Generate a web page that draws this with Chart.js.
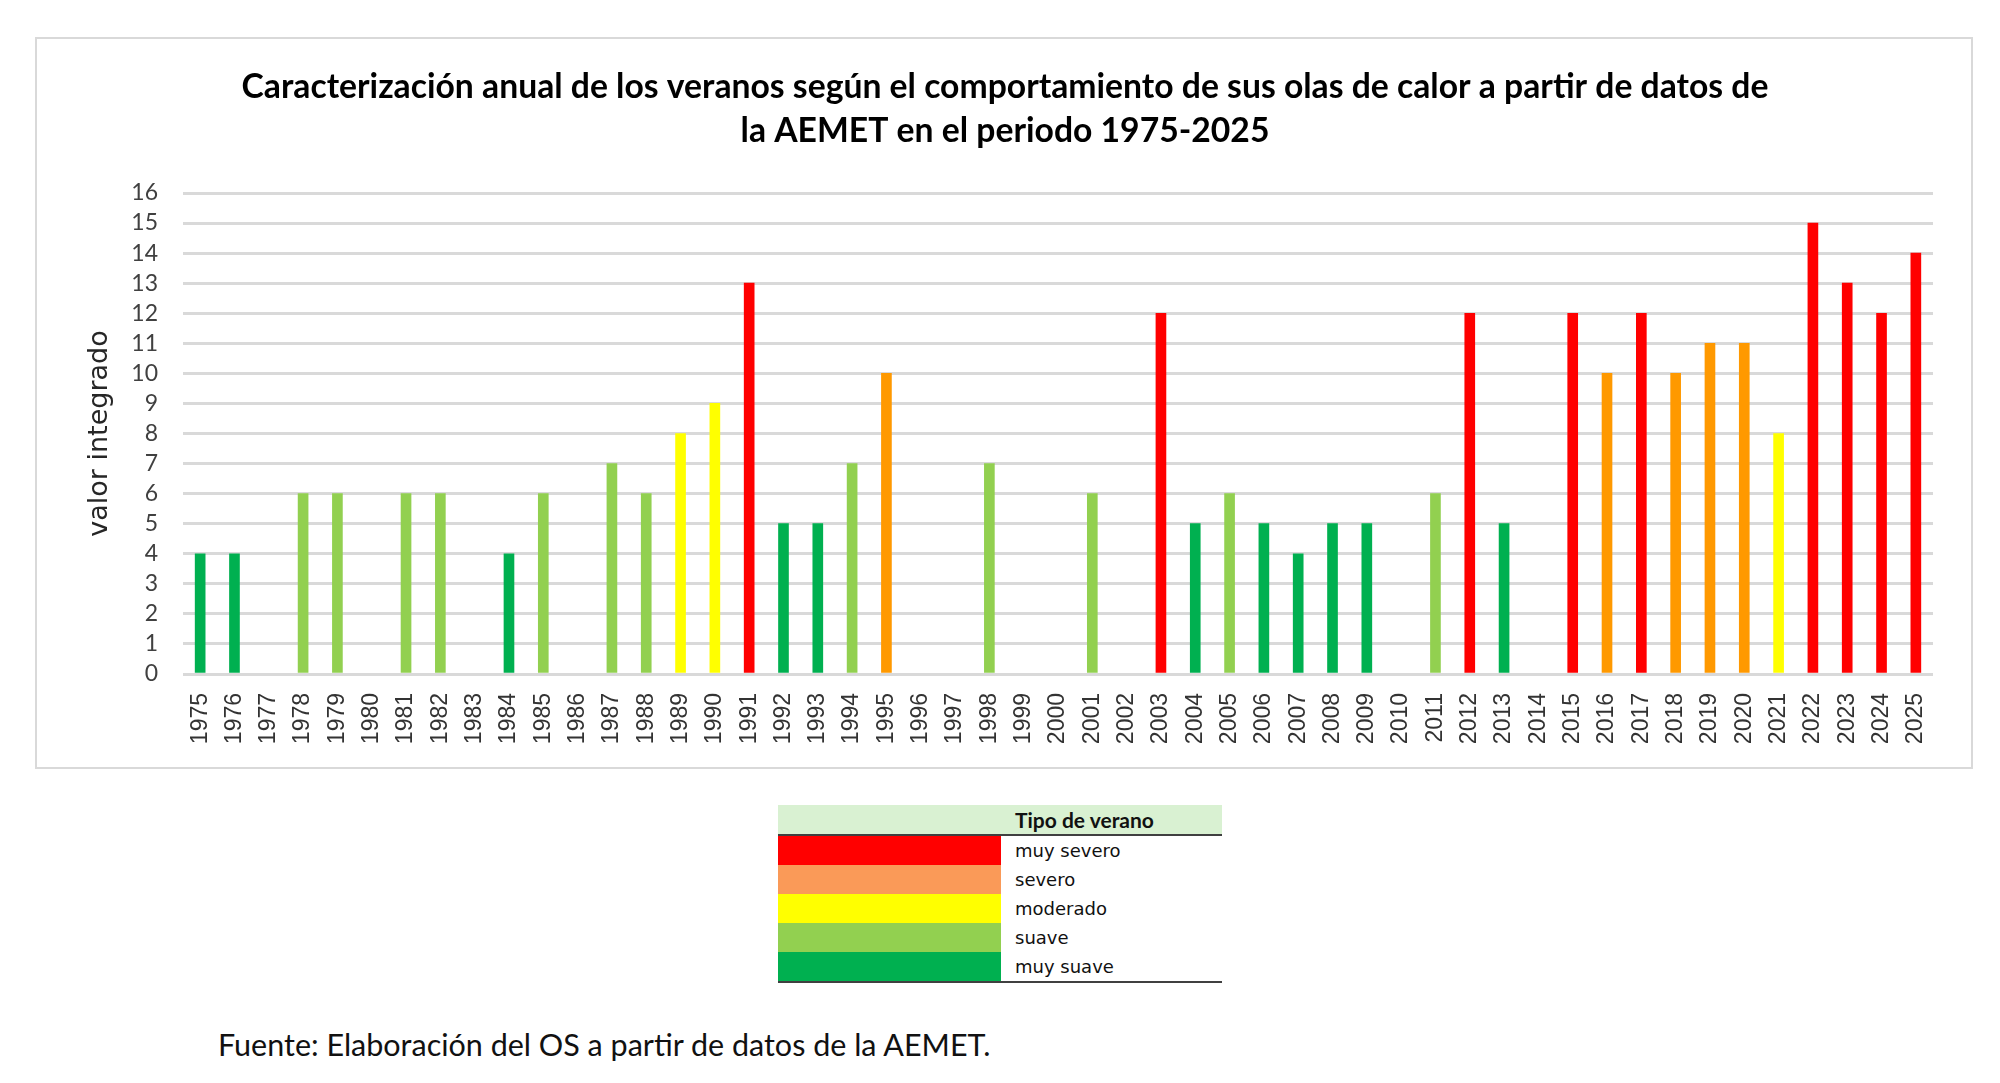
<!DOCTYPE html>
<html lang="es">
<head>
<meta charset="utf-8">
<title>Caracterización anual de los veranos</title>
<script src="https://cdn.jsdelivr.net/npm/chart.js@4.4.1/dist/chart.umd.min.js"></script>
<style>
  html, body { margin: 0; padding: 0; background: #fff; }
  body { width: 2000px; height: 1083px; position: relative; overflow: hidden; }
  #marco {
    position: absolute; left: 35px; top: 37px; width: 1938px; height: 732px;
    box-sizing: border-box; border: 2px solid #d9d9d9; background: #fff;
  }
  #leyenda {
    position: absolute; left: 778px; top: 805px; width: 444px;
    border-collapse: collapse; font-family: "DejaVu Sans", sans-serif; font-size: 18px; color: #111;
  }
  #leyenda th {
    background: #d9f1d2; height: 29px; padding: 0; text-align: left;
    font-family: Lato, sans-serif; font-weight: bold; font-size: 21px;
    border-bottom: 2px solid #404040;
  }
  #leyenda td { height: 29px; padding: 0; }
  #leyenda td.muestra { width: 223px; }
  #leyenda td.texto { padding-left: 14px; }
  #leyenda tr:last-child td { border-bottom: 2px solid #404040; }
  #fuente {
    position: absolute; left: 218px; top: 1026px; line-height: 36px;
    font-family: Lato, sans-serif; font-size: 30.5px; color: #111;
  }
</style>
</head>
<body>
<div id="marco"><canvas id="grafico"></canvas></div>
<table id="leyenda"></table>
<div id="fuente">Fuente: Elaboración del OS a partir de datos de la AEMET.</div>

<script>
// años del periodo
var anios = [
  '1975','1976','1977','1978','1979','1980','1981','1982','1983','1984',
  '1985','1986','1987','1988','1989','1990','1991','1992','1993','1994',
  '1995','1996','1997','1998','1999','2000','2001','2002','2003','2004',
  '2005','2006','2007','2008','2009','2010','2011','2012','2013','2014',
  '2015','2016','2017','2018','2019','2020','2021','2022','2023','2024','2025'
];

// valor integrado de cada verano (null = sin ola de calor)
var valores = [
  4, 4, null, 6, 6, null, 6, 6, null, 4,
  6, null, 7, 6, 8, 9, 13, 5, 5, 7,
  10, null, null, 7, null, null, 6, null, 12, 5,
  6, 5, 4, 5, 5, null, 6, 12, 5, null,
  12, 10, 12, 10, 11, 11, 8, 15, 13, 12, 14
];

// tipo de verano de cada año (ms = muy suave, s = suave, m = moderado, sv = severo, msv = muy severo)
var tipos = [
  'ms','ms',null,'s','s',null,'s','s',null,'ms',
  's',null,'s','s','m','m','msv','ms','ms','s',
  'sv',null,null,'s',null,null,'s',null,'msv','ms',
  's','ms','ms','ms','ms',null,'s','msv','ms',null,
  'msv','sv','msv','sv','sv','sv','m','msv','msv','msv','msv'
];

// marcas del eje vertical
var ticksY = [0,1,2,3,4,5,6,7,8,9,10,11,12,13,14,15,16];

// leyenda
var clavesLeyenda = ['msv','sv','m','s','ms'];
var nombresLeyenda = ['muy severo','severo','moderado','suave','muy suave'];

var coloresBarra = { msv: '#ff0000', sv: '#ff9900', m: '#ffff00', s: '#92d050', ms: '#00b050' };
var coloresLeyenda = { msv: '#ff0000', sv: '#fa9a58', m: '#ffff00', s: '#92d050', ms: '#00b050' };

// tabla de la leyenda
var tabla = document.getElementById('leyenda');
var html = '<tr><th></th><th style="padding-left:14px">Tipo de verano</th></tr>';
for (var i = 0; i < clavesLeyenda.length; i++) {
  html += '<tr><td class="muestra" style="background:' + coloresLeyenda[clavesLeyenda[i]] + '"></td>' +
          '<td class="texto">' + nombresLeyenda[i] + '</td></tr>';
}
tabla.innerHTML = html;

var ctx = document.getElementById('grafico');

new Chart(ctx, {
  type: 'bar',
  data: {
    labels: anios,
    datasets: [{
      label: 'valor integrado',
      data: valores,
      backgroundColor: tipos.map(function (t) { return t ? coloresBarra[t] : 'transparent'; }),
      barThickness: 10,
      borderWidth: 0
    }]
  },
  options: {
    responsive: true,
    maintainAspectRatio: false,
    animation: false,
    devicePixelRatio: 1,
    layout: { padding: { left: 40, right: 38, top: 0, bottom: 0 } },
    plugins: {
      legend: { display: false },
      tooltip: { enabled: false },
      title: {
        display: true,
        text: [
          'Caracterización anual de los veranos según el comportamiento de sus olas de calor a partir de datos de',
          'la AEMET en el periodo 1975-2025'
        ],
        color: '#000',
        font: { family: 'Lato', size: 33.7, weight: 'bold', lineHeight: 44 / 33.7 },
        padding: { top: 26, bottom: 40 }
      }
    },
    scales: {
      x: {
        grid: { display: false, drawTicks: false },
        border: { display: false },
        ticks: {
          autoSkip: false,
          minRotation: 90,
          maxRotation: 90,
          padding: 19,
          color: '#333',
          font: { family: 'Liberation Sans', size: 23 }
        },
        afterFit: function (scale) { scale.height = 93; }
      },
      y: {
        min: 0,
        max: 16,
        afterBuildTicks: function (scale) {
          scale.ticks = ticksY.map(function (v) { return { value: v }; });
        },
        grid: { color: '#d9d9d9', lineWidth: 3, drawTicks: false },
        border: { display: false },
        ticks: {
          autoSkip: false,
          padding: 25,
          color: '#404040',
          font: { family: 'Lato', size: 23 }
        },
        title: {
          display: true,
          text: 'valor integrado',
          color: '#262626',
          font: { family: 'DejaVu Sans', size: 27 },
          padding: { top: 7, bottom: 0 }
        },
        afterFit: function (scale) { scale.width = 106; }
      }
    }
  }
});
</script>
</body>
</html>
